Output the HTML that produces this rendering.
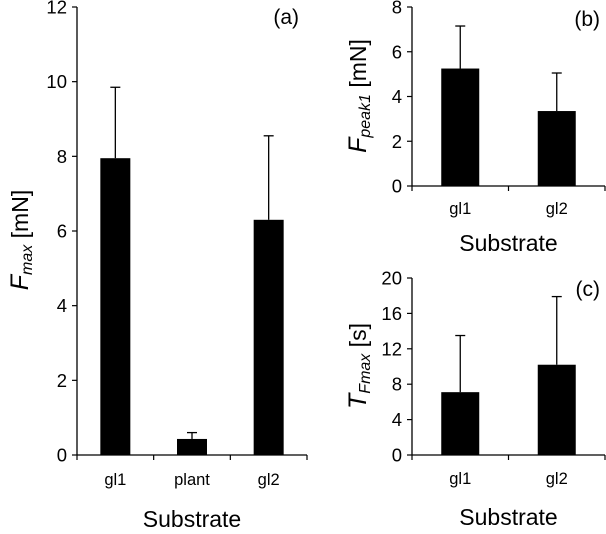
<!DOCTYPE html>
<html><head><meta charset="utf-8"><style>
html,body{margin:0;padding:0;background:#fff;}
svg{display:block;font-family:"Liberation Sans",Arial,sans-serif;}
</style></head><body>
<svg id="chart" width="606" height="534" viewBox="0 0 606 534"></svg>
<script>
const catsA=["gl1","plant","gl2"];
const valsA=[7.95,0.43,6.3];
const errA=[9.85,0.6,8.55];
const ticksA=[0,2,4,6,8,10,12];
const catsB=["gl1","gl2"];
const valsB=[5.25,3.35];
const errB=[7.15,5.05];
const ticksB=[0,2,4,6,8];
const catsC=["gl1","gl2"];
const valsC=[7.1,10.2];
const errC=[13.5,17.9];
const ticksC=[0,4,8,12,16,20];

const NS="http://www.w3.org/2000/svg";
const svg=document.getElementById('chart');
function mk(tag,attrs,parent,text){const e=document.createElementNS(NS,tag);for(const k in attrs)e.setAttribute(k,attrs[k]);if(text!==undefined)e.textContent=text;(parent||svg).appendChild(e);return e;}

function panel(cfg){
  const g=mk('g',{});
  
  
  const ymax=cfg.ticks[cfg.ticks.length-1];
  const y=v=>cfg.y0-(cfg.y0-cfg.yTop)*v/ymax;
  const cw=(cfg.x1-cfg.x0)/cfg.cats.length;
  const xc=i=>cfg.x0+cw*(i+0.5);
  const ya=mk('line',{x1:cfg.x0,y1:cfg.yTop,x2:cfg.x0,y2:cfg.y0,stroke:'#000','stroke-width':1.3},g);
  
  const xa=mk('line',{x1:cfg.x0,y1:cfg.y0,x2:cfg.x1,y2:cfg.y0,stroke:'#000','stroke-width':1.3},g);
  
  cfg.ticks.forEach(t=>{
    mk('line',{x1:cfg.x0-5,y1:y(t),x2:cfg.x0,y2:y(t),stroke:'#000','stroke-width':1.2},g);
    const tl=mk('text',{x:cfg.x0-10,y:y(t)+6.5,'text-anchor':'end','font-size':18.5,fill:'#000'},g,String(t));
    
  });
  for(let i=0;i<=cfg.cats.length;i++){
    mk('line',{x1:cfg.x0+cw*i,y1:cfg.y0,x2:cfg.x0+cw*i,y2:cfg.y0+5,stroke:'#000','stroke-width':1.2},g);
  }
  cfg.cats.forEach((c,i)=>{
    const bw=cfg.bw;
    const err=mk('line',{x1:xc(i),y1:y(cfg.err[i]),x2:xc(i),y2:y(cfg.vals[i]),stroke:'#000','stroke-width':1.3},g);
    
    mk('line',{x1:xc(i)-5,y1:y(cfg.err[i]),x2:xc(i)+5,y2:y(cfg.err[i]),stroke:'#000','stroke-width':1.3},g);
    const r=mk('rect',{x:xc(i)-bw/2,y:y(cfg.vals[i]),width:bw,height:cfg.y0-y(cfg.vals[i]),fill:'#000'},g);
    
    const cl=mk('text',{x:xc(i),y:cfg.catY,'text-anchor':'middle','font-size':16.5,fill:'#000'},g,c);
    
  });
  const xt=mk('text',{x:(cfg.x0+cfg.x1)/2,y:cfg.subY,'text-anchor':'middle','font-size':23,fill:'#000'},g,'Substrate');
  
  const pl=mk('text',{x:cfg.lblX,y:cfg.lblY,'text-anchor':'end','font-size':21,fill:'#000'},g,cfg.lbl);
  
  const yt=mk('text',{transform:`translate(${cfg.ytX},${cfg.ytY}) rotate(-90)`,'text-anchor':'middle','font-size':23,fill:'#000'},g);
  
  mk('tspan',{'font-style':'italic','font-size':25},yt,cfg.sym);
  mk('tspan',{'font-style':'italic','font-size':16,dy:4},yt,cfg.sub);
  mk('tspan',{dy:-4},yt,' '+cfg.unit);
}
panel({name:'panel-a',cats:catsA,vals:valsA,err:errA,ticks:ticksA,x0:77,x1:307,y0:455,yTop:7,bw:30,catY:485,subY:527,lbl:'(a)',lblX:299,lblY:24,ytX:28,ytY:240,sym:'F',sub:'max',unit:'[mN]'});
panel({name:'panel-b',cats:catsB,vals:valsB,err:errB,ticks:ticksB,x0:412,x1:605,y0:186,yTop:7,bw:38,catY:214,subY:251,lbl:'(b)',lblX:600,lblY:26,ytX:366,ytY:96,sym:'F',sub:'peak1',unit:'[mN]'});
panel({name:'panel-c',cats:catsC,vals:valsC,err:errC,ticks:ticksC,x0:412,x1:605,y0:455,yTop:278,bw:38,catY:484,subY:525,lbl:'(c)',lblX:600,lblY:296,ytX:366,ytY:366,sym:'T',sub:'Fmax',unit:'[s]'});
</script>
</body></html>
